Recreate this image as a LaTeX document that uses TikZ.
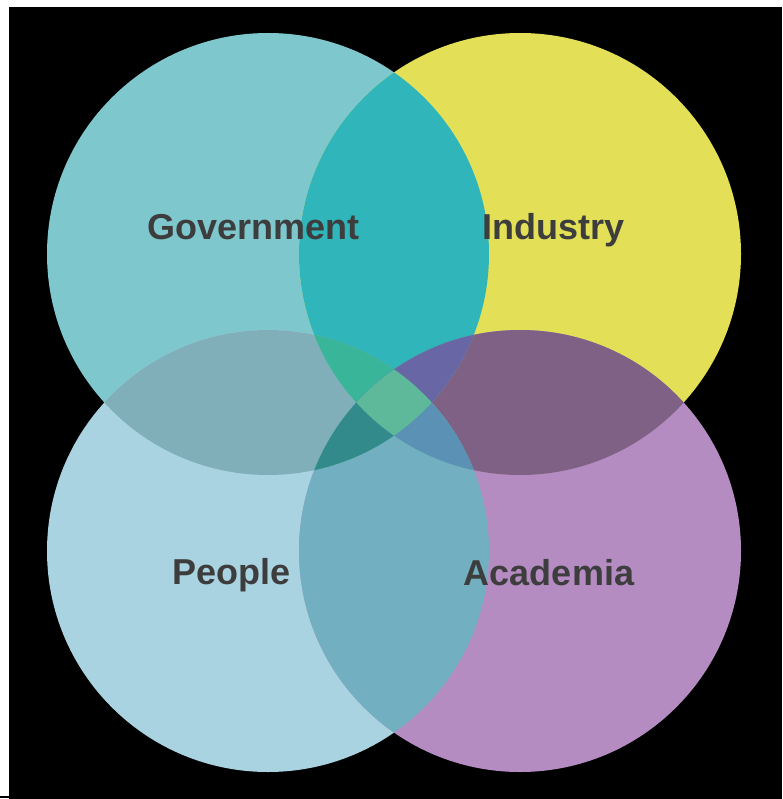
\documentclass[tikz,border=0pt]{standalone}
\usepackage{fontspec}
\setmainfont{Liberation Sans}
\definecolor{cgov}{HTML}{7EC8CD}
\definecolor{cind}{HTML}{E3E057}
\definecolor{cpeo}{HTML}{A9D3E0}
\definecolor{caca}{HTML}{B48CC1}
\definecolor{cgi}{HTML}{30B5BA}
\definecolor{cgp}{HTML}{80AFBA}
\definecolor{cia}{HTML}{7E6185}
\definecolor{cpa}{HTML}{72B0C1}
\definecolor{cga}{HTML}{5EB99B}
\definecolor{cip}{HTML}{5EB99B}
\definecolor{cgip}{HTML}{39B59A}
\definecolor{cgia}{HTML}{6866A4}
\definecolor{cgpa}{HTML}{338A8A}
\definecolor{cipa}{HTML}{5A91B4}
\definecolor{call}{HTML}{5EB99B}
\definecolor{labelgrey}{HTML}{3D3D3D}
\begin{document}
\begin{tikzpicture}[x=1pt,y=-1pt,
  lbl/.style={font=\fontsize{36}{40}\selectfont\bfseries, text=labelgrey, inner sep=0pt, anchor=base}]
\useasboundingbox (0,0) rectangle (782,799);
\fill[white] (0,0) rectangle (782,799);
\fill[black] (9,7) rectangle (782,799);
\fill[black] (0,796) rectangle (9,797.5);
\def\R{221pt}
\coordinate (cG) at (268,254);
\coordinate (cI) at (520,254);
\coordinate (cP) at (268,551);
\coordinate (cA) at (520,551);
% single circles
\fill[cgov] (cG) circle[radius=\R];
\fill[cind] (cI) circle[radius=\R];
\fill[cpeo] (cP) circle[radius=\R];
\fill[caca] (cA) circle[radius=\R];
% pairwise
\begin{scope}\clip (cG) circle[radius=\R]; \fill[cgi] (cI) circle[radius=\R];\end{scope}
\begin{scope}\clip (cG) circle[radius=\R]; \fill[cgp] (cP) circle[radius=\R];\end{scope}
\begin{scope}\clip (cI) circle[radius=\R]; \fill[cia] (cA) circle[radius=\R];\end{scope}
\begin{scope}\clip (cP) circle[radius=\R]; \fill[cpa] (cA) circle[radius=\R];\end{scope}
\begin{scope}\clip (cG) circle[radius=\R]; \fill[cga] (cA) circle[radius=\R];\end{scope}
\begin{scope}\clip (cI) circle[radius=\R]; \fill[cip] (cP) circle[radius=\R];\end{scope}
% triples
\begin{scope}\clip (cG) circle[radius=\R]; \clip (cI) circle[radius=\R]; \fill[cgip] (cP) circle[radius=\R];\end{scope}
\begin{scope}\clip (cG) circle[radius=\R]; \clip (cI) circle[radius=\R]; \fill[cgia] (cA) circle[radius=\R];\end{scope}
\begin{scope}\clip (cG) circle[radius=\R]; \clip (cP) circle[radius=\R]; \fill[cgpa] (cA) circle[radius=\R];\end{scope}
\begin{scope}\clip (cI) circle[radius=\R]; \clip (cP) circle[radius=\R]; \fill[cipa] (cA) circle[radius=\R];\end{scope}
% all four
\begin{scope}\clip (cG) circle[radius=\R]; \clip (cI) circle[radius=\R]; \clip (cP) circle[radius=\R]; \fill[call] (cA) circle[radius=\R];\end{scope}
% labels
\node[lbl] (gov) at (253.5,239.5) {Government};
\node[lbl] (ind) at (553.3,239.5) {Industry};
\node[lbl] (peo) at (231.7,584.5) {People};
\node[lbl] (aca) at (549,585.7) {Academia};
\end{tikzpicture}
\end{document}
